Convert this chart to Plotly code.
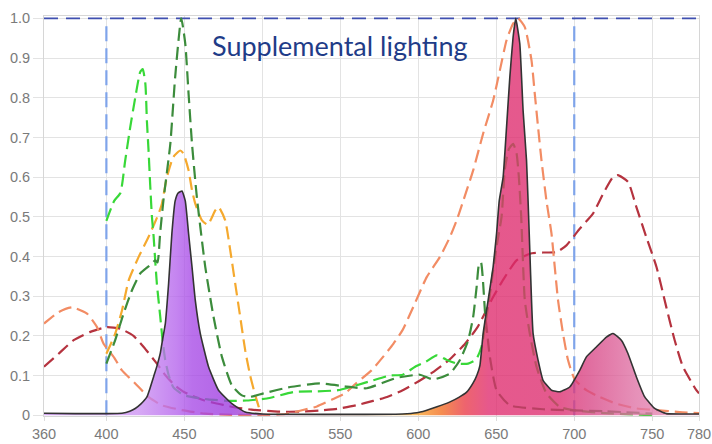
import plotly.graph_objects as go

# ---------------- data (wavelength nm, relative value) ----------------
x_ticks = [360, 400, 450, 500, 550, 600, 650, 700, 750, 780]
x_ticktext = ["360", "400", "450", "500", "550", "600", "650", "700", "750", "780"]
y_ticks = [0, 0.1, 0.2, 0.3, 0.4, 0.5, 0.6, 0.7, 0.8, 0.9, 1.0]
y_ticktext = ["0", "0.1", "0.2", "0.3", "0.4", "0.5", "0.6", "0.7", "0.8", "0.9", "1.0"]

band_nm = [400, 700]          # supplemental-lighting band
band_top = 1.0
title_text = "Supplemental lighting"

# LED emission spectrum (solid, filled)
led_nm = [360, 380, 400, 410, 415, 418.5, 422, 426, 428, 430.3, 432.5, 434.5, 436, 437.8, 439.9,
          442, 444.1, 446, 448.5, 450.6, 452.7, 454.9, 457, 460.2, 465.5, 471.9, 480.5, 489, 500,
          540, 590, 599, 605, 612, 620, 626, 631, 635, 637.5, 639.5, 641.6, 644.8, 648, 650.2,
          651.9, 654.4, 656.6, 658.7, 660.8, 662.5, 665.1, 667.2, 669.4, 670.4, 671.5, 672.6,
          673.6, 676.8, 680, 685.4, 690.7, 697.1, 703.5, 707.8, 714.2, 720.6, 724.9, 730.2,
          734.5, 739.8, 745.2, 751.6, 759, 770, 780]
led_val = [0.005, 0.004, 0.004, 0.005, 0.010, 0.017, 0.028, 0.046, 0.068, 0.097, 0.125, 0.155,
           0.19, 0.231, 0.332, 0.458, 0.54, 0.56, 0.565, 0.54, 0.458, 0.374, 0.29, 0.206, 0.122,
           0.063, 0.029, 0.008, 0.003, 0.002, 0.003, 0.006, 0.012, 0.021, 0.033, 0.045, 0.058,
           0.08, 0.1, 0.125, 0.206, 0.29, 0.374, 0.458, 0.54, 0.6, 0.726, 0.852, 0.953, 1.0,
           0.936, 0.768, 0.642, 0.54, 0.416, 0.29, 0.206, 0.139, 0.088, 0.063, 0.059, 0.071,
           0.113, 0.147, 0.172, 0.197, 0.206, 0.189, 0.155, 0.097, 0.046, 0.017, 0.004, 0.003,
           0.003]

# dark green dashed
dg_nm = [400, 405.7, 411, 416.4, 421.7, 428, 431.3, 432.8, 434.5, 436.6, 441, 444.1, 448, 450.6,
         452.7, 454.9, 458, 463.4, 468.7, 474.1, 480.5, 486.9, 492, 500.7, 517.8, 537, 554, 567,
         586, 601, 609.6, 620.3, 626.7, 632, 635.2, 637.4, 639, 640.2, 641.6, 642.7, 644.2,
         645.9, 650.2, 658.7, 680, 720, 750]
dg_val = [0.13, 0.19, 0.256, 0.315, 0.357, 0.378, 0.39, 0.385, 0.46, 0.542, 0.684, 0.852, 1.0,
          0.936, 0.81, 0.684, 0.55, 0.374, 0.248, 0.147, 0.075, 0.05, 0.046, 0.055, 0.071, 0.08,
          0.072, 0.068, 0.094, 0.102, 0.09, 0.105, 0.139, 0.189, 0.248, 0.323, 0.382, 0.385,
          0.332, 0.264, 0.206, 0.147, 0.063, 0.025, 0.015, 0.01, 0.004]

# lime dashed
lm_nm = [400, 405, 409, 412, 415.3, 418.5, 421.7, 423.3, 425, 426, 427, 428.1, 429.2, 430.3,
         431.3, 432.4, 434.5, 436, 437.7, 440, 443, 450, 465, 480, 490, 502.9, 521, 535, 548.5,
         560, 571, 581.8, 590, 598, 605, 611.8, 618, 625, 632, 637, 640.5, 645, 650, 653.4,
         655.5, 658, 660.8, 663, 664.5, 666, 668.3, 671.5, 675.8, 682.2, 690.7, 699.2, 720, 750]
lm_val = [0.49, 0.54, 0.56, 0.64, 0.726, 0.8, 0.865, 0.872, 0.835, 0.74, 0.67, 0.58, 0.5, 0.45,
          0.39, 0.33, 0.25, 0.19, 0.14, 0.1, 0.07, 0.05, 0.04, 0.036, 0.037, 0.042, 0.059, 0.06,
          0.063, 0.075, 0.088, 0.1, 0.102, 0.122, 0.135, 0.151, 0.14, 0.13, 0.13, 0.14, 0.172,
          0.28, 0.42, 0.5, 0.62, 0.67, 0.684, 0.66, 0.6, 0.5, 0.29, 0.206, 0.122, 0.055, 0.021,
          0.013, 0.005, 0.0]

# orange dashed
or_nm = [400, 405.7, 410, 414.3, 420.7, 427, 433.5, 435.6, 438.8, 443, 447.4, 449.5, 452.7,
         454.9, 457, 461.3, 465, 469.8, 471.9, 476.2, 479.4, 482.6, 485.8, 489, 492.2, 495.5, 499]
or_val = [0.155, 0.206, 0.264, 0.34, 0.399, 0.449, 0.508, 0.533, 0.6, 0.651, 0.667, 0.659, 0.617,
          0.567, 0.533, 0.491, 0.48, 0.516, 0.525, 0.491, 0.416, 0.332, 0.248, 0.164, 0.1, 0.05,
          0.004]

# coral dashed
co_nm = [360, 369.4, 378, 387.6, 394, 398.2, 405, 410, 418.5, 427, 435.6, 448.4, 463.4, 480, 500,
         515, 526, 535, 545, 553, 560, 570, 577, 584, 590, 596.8, 605.4, 613.9, 620.3, 624.6,
         628.8, 635.2, 641.6, 648, 652.3, 656.6, 660.8, 664, 668.3, 672.6, 674.7, 676.8, 679,
         682.2, 685.4, 687.5, 689.6, 692.8, 696, 700.3, 707.8, 716.3, 727, 739.8, 752.7, 767.6,
         780]
co_val = [0.231, 0.26, 0.272, 0.256, 0.222, 0.18, 0.145, 0.113, 0.08, 0.046, 0.025, 0.013, 0.004,
          0.001, 0.0, 0.003, 0.013, 0.022, 0.04, 0.055, 0.08, 0.113, 0.145, 0.18, 0.215, 0.273,
          0.348, 0.399, 0.449, 0.491, 0.54, 0.617, 0.71, 0.793, 0.869, 0.945, 0.987, 1.0, 0.978,
          0.894, 0.81, 0.726, 0.642, 0.54, 0.458, 0.374, 0.29, 0.206, 0.139, 0.09, 0.063, 0.046,
          0.029, 0.017, 0.013, 0.008, 0.005]

# dark red dashed
dr_nm = [360, 369.4, 379, 389.7, 400.4, 408.9, 417.4, 423.9, 432.4, 438, 444, 450, 457, 463, 470,
         476, 482, 493, 510, 525, 537, 548, 560, 571, 580, 590, 600, 610, 620, 630, 638, 648, 655,
         663, 671.5, 680, 688.6, 695, 703.5, 712, 718.5, 724.9, 728, 734.5, 739.8, 746.2, 752.7,
         759, 764.4, 769.7, 778.3, 780]
dr_val = [0.122, 0.155, 0.189, 0.21, 0.222, 0.218, 0.2, 0.172, 0.13, 0.1, 0.075, 0.058, 0.046,
          0.037, 0.03, 0.025, 0.02, 0.014, 0.009, 0.009, 0.012, 0.016, 0.025, 0.036, 0.046, 0.063,
          0.085, 0.11, 0.14, 0.18, 0.222, 0.298, 0.345, 0.39, 0.407, 0.41, 0.411, 0.428, 0.47,
          0.508, 0.558, 0.6, 0.605, 0.588, 0.525, 0.449, 0.374, 0.273, 0.189, 0.122, 0.063, 0.055]

# ---------------- figure ----------------
A = 0.78
def rgba(r, g, b):
    return f"rgba({r},{g},{b},{A})"

fill_scale = [
    [0.0, rgba(204, 146, 242)],
    [0.1429, rgba(204, 146, 242)],
    [0.2024, rgba(180, 98, 236)],
    [0.2262, rgba(166, 72, 230)],
    [0.2857, rgba(156, 56, 222)],
    [0.40, rgba(190, 110, 150)],
    [0.5476, rgba(248, 172, 44)],
    [0.5714, rgba(248, 160, 44)],
    [0.6071, rgba(242, 108, 31)],
    [0.6429, rgba(233, 56, 69)],
    [0.6786, rgba(223, 41, 108)],
    [0.7857, rgba(220, 43, 110)],
    [0.8333, rgba(216, 69, 133)],
    [0.9048, rgba(223, 114, 165)],
    [1.0, rgba(236, 152, 191)],
]

fig = go.Figure()

dash = "13px,6px"
series = [
    (dr_nm, dr_val, "#B5333F"),
    (co_nm, co_val, "#F28C64"),
    (or_nm, or_val, "#F5A92E"),
    (lm_nm, lm_val, "#38D838"),
    (dg_nm, dg_val, "#3C8C3C"),
]
for xs, ys, col in series:
    assert len(xs) == len(ys)
    fig.add_trace(go.Scatter(
        x=xs, y=ys, mode="lines",
        line=dict(color=col, width=2.2, dash=dash, shape="spline", smoothing=0.5),
        hoverinfo="skip", showlegend=False))

assert len(led_nm) == len(led_val)
fig.add_trace(go.Scatter(
    x=led_nm, y=led_val, mode="lines",
    line=dict(color="#333333", width=1.6, shape="spline", smoothing=0.4),
    fill="tozeroy",
    fillgradient=dict(type="horizontal", start=360, stop=780, colorscale=fill_scale),
    hoverinfo="skip", showlegend=False))

for xv in band_nm:
    fig.add_shape(type="line", xref="x", yref="y", x0=xv, x1=xv, y0=0, y1=band_top,
                  line=dict(color="#7FA4EA", width=2.2, dash="15px,7px"), layer="between")
fig.add_shape(type="line", xref="x", yref="y", x0=x_ticks[0], x1=x_ticks[-1], y0=band_top, y1=band_top,
              line=dict(color="#3F4FB0", width=1.8, dash="14px,8px"), layer="between")

fig.add_annotation(x=550, y=0.932, xref="x", yref="y", text=title_text, showarrow=False,
                   font=dict(family="Lato, Open Sans, sans-serif", size=27, color="#1F3C88"))

tickfont = dict(family="Liberation Sans, Arial, sans-serif", size=14.5, color="#7A7A7A")
fig.update_xaxes(range=[360, 780], tickmode="array", tickvals=x_ticks, ticktext=x_ticktext,
                 showgrid=True, gridcolor="#E3E3E3", gridwidth=1, zeroline=False,
                 showline=True, linecolor="#D6D6D6", linewidth=1, mirror=True,
                 ticks="outside", ticklen=4, tickcolor="#DDDDDD", tickfont=tickfont,
                 ticklabelstandoff=1, automargin=False)
fig.update_yaxes(range=[-0.002, 1.006], tickmode="array", tickvals=y_ticks, ticktext=y_ticktext,
                 showgrid=True, gridcolor="#E3E3E3", gridwidth=1, zeroline=False,
                 showline=True, linecolor="#D6D6D6", linewidth=1, mirror=True,
                 ticks="outside", ticklen=10, tickcolor="#E3E3E3", tickfont=tickfont,
                 automargin=False)

fig.update_layout(width=712, height=444, margin=dict(l=44, r=13, t=16, b=28, pad=0, autoexpand=False),
                  paper_bgcolor="white", plot_bgcolor="white", showlegend=False)

# remove the default 8px page margin so the 712x444 figure fills the window exactly
fig.write_html("out.html",
               config={"displayModeBar": False, "staticPlot": True},
               post_script="document.body.style.margin='0';document.body.style.overflow='hidden';")
